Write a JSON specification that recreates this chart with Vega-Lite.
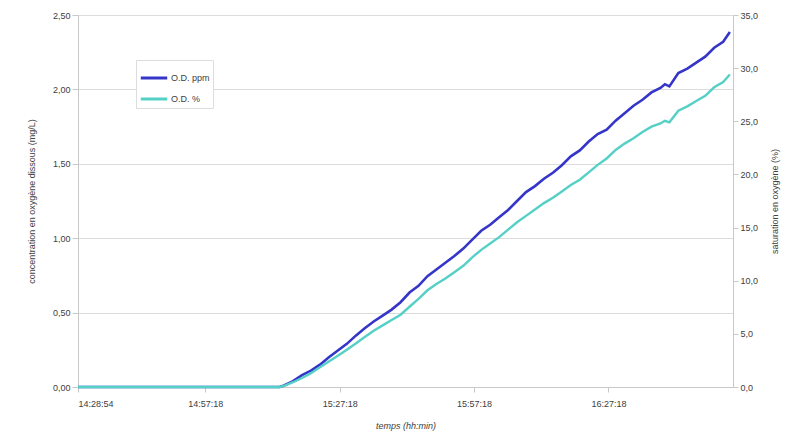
{
  "$schema": "https://vega.github.io/schema/vega-lite/v6.json",
  "width": 655,
  "height": 372,
  "autosize": {"type": "none"},
  "padding": {"left": 78, "top": 15, "right": 65, "bottom": 49},
  "background": "white",
  "config": {
    "font": "Liberation Sans",
    "view": {"stroke": null},
    "axis": {"labelFontSize": 9, "titleFontSize": 9, "labelColor": "#404040", "titleColor": "#404040", "titleFontWeight": "normal", "domainColor": "#c8c8c8", "tickColor": "#c8c8c8", "gridColor": "#dcdcdc"}
  },
  "data": {"values": [
    {"t": "2020-01-01T14:28:54", "ppm": 0, "pct": 0},
    {"t": "2020-01-01T14:43:54", "ppm": 0, "pct": 0},
    {"t": "2020-01-01T14:58:54", "ppm": 0, "pct": 0},
    {"t": "2020-01-01T15:13:54", "ppm": 0, "pct": 0},
    {"t": "2020-01-01T15:14:54", "ppm": 0.01, "pct": 0.1},
    {"t": "2020-01-01T15:16:54", "ppm": 0.04, "pct": 0.45},
    {"t": "2020-01-01T15:18:54", "ppm": 0.08, "pct": 0.85},
    {"t": "2020-01-01T15:20:54", "ppm": 0.11, "pct": 1.3},
    {"t": "2020-01-01T15:22:54", "ppm": 0.15, "pct": 1.85},
    {"t": "2020-01-01T15:24:54", "ppm": 0.2, "pct": 2.4},
    {"t": "2020-01-01T15:26:54", "ppm": 0.245, "pct": 2.95},
    {"t": "2020-01-01T15:28:54", "ppm": 0.29, "pct": 3.5},
    {"t": "2020-01-01T15:30:54", "ppm": 0.345, "pct": 4.1},
    {"t": "2020-01-01T15:32:54", "ppm": 0.395, "pct": 4.7},
    {"t": "2020-01-01T15:34:54", "ppm": 0.44, "pct": 5.3},
    {"t": "2020-01-01T15:36:54", "ppm": 0.48, "pct": 5.8},
    {"t": "2020-01-01T15:38:54", "ppm": 0.52, "pct": 6.3},
    {"t": "2020-01-01T15:40:54", "ppm": 0.57, "pct": 6.8},
    {"t": "2020-01-01T15:42:54", "ppm": 0.635, "pct": 7.55},
    {"t": "2020-01-01T15:44:54", "ppm": 0.68, "pct": 8.3},
    {"t": "2020-01-01T15:46:54", "ppm": 0.745, "pct": 9.1},
    {"t": "2020-01-01T15:48:54", "ppm": 0.79, "pct": 9.7},
    {"t": "2020-01-01T15:50:54", "ppm": 0.835, "pct": 10.2},
    {"t": "2020-01-01T15:52:54", "ppm": 0.88, "pct": 10.8},
    {"t": "2020-01-01T15:54:54", "ppm": 0.93, "pct": 11.4},
    {"t": "2020-01-01T15:56:54", "ppm": 0.99, "pct": 12.2},
    {"t": "2020-01-01T15:58:54", "ppm": 1.05, "pct": 12.9},
    {"t": "2020-01-01T16:00:54", "ppm": 1.09, "pct": 13.5},
    {"t": "2020-01-01T16:02:54", "ppm": 1.14, "pct": 14.1},
    {"t": "2020-01-01T16:04:54", "ppm": 1.19, "pct": 14.8},
    {"t": "2020-01-01T16:06:54", "ppm": 1.25, "pct": 15.5},
    {"t": "2020-01-01T16:08:54", "ppm": 1.31, "pct": 16.1},
    {"t": "2020-01-01T16:10:54", "ppm": 1.35, "pct": 16.7},
    {"t": "2020-01-01T16:12:54", "ppm": 1.4, "pct": 17.3},
    {"t": "2020-01-01T16:14:54", "ppm": 1.44, "pct": 17.8},
    {"t": "2020-01-01T16:16:54", "ppm": 1.49, "pct": 18.4},
    {"t": "2020-01-01T16:18:54", "ppm": 1.55, "pct": 19.0},
    {"t": "2020-01-01T16:20:54", "ppm": 1.59, "pct": 19.5},
    {"t": "2020-01-01T16:22:54", "ppm": 1.65, "pct": 20.2},
    {"t": "2020-01-01T16:24:54", "ppm": 1.7, "pct": 20.9},
    {"t": "2020-01-01T16:26:54", "ppm": 1.73, "pct": 21.5},
    {"t": "2020-01-01T16:28:54", "ppm": 1.79, "pct": 22.3},
    {"t": "2020-01-01T16:30:54", "ppm": 1.84, "pct": 22.9},
    {"t": "2020-01-01T16:32:54", "ppm": 1.89, "pct": 23.4},
    {"t": "2020-01-01T16:34:54", "ppm": 1.93, "pct": 24.0},
    {"t": "2020-01-01T16:36:54", "ppm": 1.98, "pct": 24.5},
    {"t": "2020-01-01T16:38:54", "ppm": 2.01, "pct": 24.8},
    {"t": "2020-01-01T16:39:54", "ppm": 2.035, "pct": 25.05},
    {"t": "2020-01-01T16:40:54", "ppm": 2.02, "pct": 24.9},
    {"t": "2020-01-01T16:42:54", "ppm": 2.11, "pct": 26.0},
    {"t": "2020-01-01T16:44:54", "ppm": 2.14, "pct": 26.4},
    {"t": "2020-01-01T16:46:54", "ppm": 2.18, "pct": 26.9},
    {"t": "2020-01-01T16:48:54", "ppm": 2.22, "pct": 27.4},
    {"t": "2020-01-01T16:50:54", "ppm": 2.28, "pct": 28.2},
    {"t": "2020-01-01T16:52:54", "ppm": 2.32, "pct": 28.7},
    {"t": "2020-01-01T16:54:24", "ppm": 2.385, "pct": 29.4}
  ]},
  "encoding": {
    "x": {
      "field": "t", "type": "temporal",
      "scale": {"domain": [
        {"year": 2020, "month": 1, "date": 1, "hours": 14, "minutes": 28, "seconds": 54},
        {"year": 2020, "month": 1, "date": 1, "hours": 16, "minutes": 55, "seconds": 6}
      ]},
      "axis": {
        "title": "temps (hh:min)", "titleFontStyle": "italic", "titlePadding": 13,
        "format": "%H:%M:%S", "grid": false, "tickSize": 5, "labelPadding": 7,
        "values": [
          {"year": 2020, "month": 1, "date": 1, "hours": 14, "minutes": 28, "seconds": 54},
          {"year": 2020, "month": 1, "date": 1, "hours": 14, "minutes": 57, "seconds": 18},
          {"year": 2020, "month": 1, "date": 1, "hours": 15, "minutes": 27, "seconds": 18},
          {"year": 2020, "month": 1, "date": 1, "hours": 15, "minutes": 57, "seconds": 18},
          {"year": 2020, "month": 1, "date": 1, "hours": 16, "minutes": 27, "seconds": 18}
        ]
      }
    }
  },
  "layer": [
    {
      "mark": {"type": "line", "strokeWidth": 2.6, "interpolate": "linear"},
      "encoding": {
        "y": {
          "field": "ppm", "type": "quantitative",
          "scale": {"domain": [0, 2.5], "nice": false},
          "axis": {
            "title": "concentration en oxygène dissous (mg/L)", "titlePadding": 16,
            "values": [0, 0.5, 1, 1.5, 2, 2.5], "grid": true, "tickSize": 6,
            "labelExpr": "replace(format(datum.value, '.2f'), '.', ',')"
          }
        },
        "color": {
          "datum": "O.D. ppm", "type": "nominal",
          "scale": {"domain": ["O.D. ppm", "O.D. %"], "range": ["#3535c9", "#55d0c6"]},
          "legend": {
            "title": null, "orient": "none", "legendX": 58, "legendY": 45,
            "symbolType": "stroke", "symbolSize": 700, "symbolStrokeWidth": 3,
            "labelFontSize": 9, "labelColor": "#404040", "strokeColor": "#dddddd",
            "fillColor": "white", "padding": 3, "rowPadding": -9, "labelOffset": 2
          }
        }
      }
    },
    {
      "mark": {"type": "line", "strokeWidth": 2.4, "interpolate": "linear"},
      "encoding": {
        "y": {
          "field": "pct", "type": "quantitative",
          "scale": {"domain": [0, 35], "nice": false},
          "axis": {
            "orient": "right", "title": "saturation en oxygène (%)", "titleAngle": -90,
            "titlePadding": 22, "values": [0, 5, 10, 15, 20, 25, 30, 35], "grid": false, "tickSize": 5,
            "labelExpr": "replace(format(datum.value, '.1f'), '.', ',')"
          }
        },
        "color": {"datum": "O.D. %", "type": "nominal"}
      }
    }
  ],
  "resolve": {"scale": {"y": "independent"}}
}
